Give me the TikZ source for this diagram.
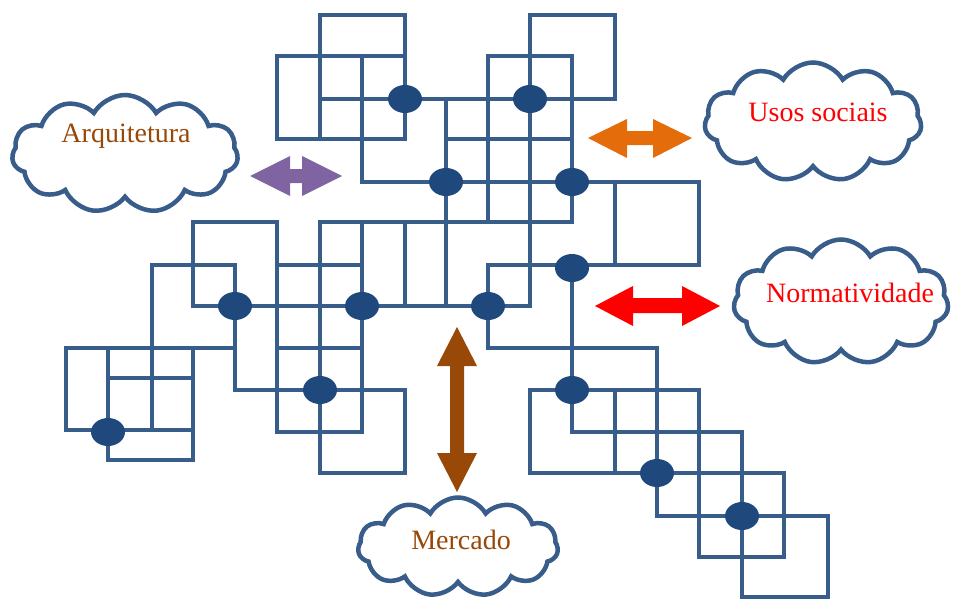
\documentclass[tikz,border=0pt]{standalone}
\usepackage{fontspec}
\setmainfont{Liberation Serif}
\usetikzlibrary{shapes.symbols,shapes.geometric}
\definecolor{gridblue}{RGB}{56,93,138}
\definecolor{dotblue}{RGB}{31,73,125}
\definecolor{arrpurple}{RGB}{128,100,162}
\definecolor{arrorange}{RGB}{228,108,10}
\definecolor{arrred}{RGB}{255,0,0}
\definecolor{arrbrown}{RGB}{152,72,7}
\definecolor{txtbrown}{RGB}{152,72,6}
\begin{document}
\begin{tikzpicture}[x=1pt,y=-1pt,
  gl/.style={draw=gridblue,line width=4.5pt,line cap=rect},
  dotn/.style={ellipse,fill=dotblue,minimum width=34pt,minimum height=28pt,inner sep=0pt},
  cloudn/.style={cloud,cloud puffs=11,cloud puff arc=120,cloud ignores aspect,draw=gridblue,line width=4.5pt,fill=white,inner sep=0pt},
  lbl/.style={font=\fontsize{28}{30}\selectfont,inner sep=0pt}]
\useasboundingbox (0,0) rectangle (960,599);
% horizontal grid segments
\foreach \yy/\xa/\xb in {15/320/405, 15/530/615, 56/277/405, 56/488/572, 99/320/615,
  139/277/405, 139/446/572, 182/362/699, 222/193/277, 222/320/572,
  265/152/235, 265/277/362, 265/488/699, 306/193/530,
  348/66/235, 348/277/362, 348/488/657, 390/235/405, 390/530/699, 378/108/193,
  432/277/362, 432/572/742, 430/66/193, 473/320/405, 473/530/784, 460/108/193,
  516/657/828, 557/699/784, 597/742/828}
  \draw[gl] (\xa,\yy) -- (\xb,\yy);
% vertical grid segments
\foreach \xx/\ya/\yb in {66/348/430, 108/348/460, 152/265/430, 193/222/306, 193/348/460,
  235/265/390, 277/56/139, 277/222/432, 320/15/139, 320/222/473,
  362/56/182, 362/222/432, 405/15/139, 405/222/306, 405/390/473,
  446/99/306, 488/56/222, 488/265/348, 530/15/306, 530/390/473,
  572/56/222, 572/265/432, 615/15/99, 615/182/265, 615/390/473,
  657/348/516, 699/182/265, 699/390/557, 742/432/597, 784/473/557, 828/516/597}
  \draw[gl] (\xx,\ya) -- (\xx,\yb);
% junction dots
\node[dotn] (d1) at (405,99) {};
\node[dotn] (d2) at (530,99) {};
\node[dotn] (d3) at (446,182) {};
\node[dotn] (d4) at (572,182) {};
\node[dotn] (d5) at (572,268) {};
\node[dotn] (d6) at (235,306) {};
\node[dotn] (d7) at (362,306) {};
\node[dotn] (d8) at (488,306) {};
\node[dotn] (d9) at (320,390) {};
\node[dotn] (d10) at (108,432) {};
\node[dotn] (d11) at (572,390) {};
\node[dotn] (d12) at (657,473) {};
\node[dotn] (d13) at (742,516) {};
% clouds
\node[cloudn,minimum width=226pt,minimum height=118pt] (c1) at (125,154) {};
\node[lbl,text=txtbrown] (t1) at (126,136) {Arquitetura};
\node[cloudn,minimum width=217pt,minimum height=119pt] (c2) at (813,122) {};
\node[lbl,text=arrred] (t2) at (818,112) {Usos sociais};
\node[cloudn,minimum width=215pt,minimum height=125pt] (c3) at (841,302) {};
\node[lbl,text=arrred] (t3) at (850,293) {Normatividade};
\node[cloudn,minimum width=200pt,minimum height=99pt] (c4) at (458,547) {};
\node[lbl,text=txtbrown] (t4) at (461,540) {Mercado};
% double arrows
\fill[arrpurple] (250,176) -- (290,156) -- (290,169) -- (302,169) -- (302,156) -- (342,176)
  -- (302,196) -- (302,183) -- (290,183) -- (290,196) -- cycle;
\fill[arrorange] (588,138) -- (627,119) -- (627,131) -- (653,131) -- (653,119) -- (692,138)
  -- (653,158) -- (653,145) -- (627,145) -- (627,158) -- cycle;
\fill[arrred] (595,306) -- (633,286) -- (633,298) -- (682,298) -- (682,286) -- (720,306)
  -- (682,326) -- (682,313) -- (633,313) -- (633,326) -- cycle;
\fill[arrbrown] (457,327) -- (477,366) -- (464,366) -- (464,453) -- (477,453) -- (457,492)
  -- (437,453) -- (450,453) -- (450,366) -- (437,366) -- cycle;
\end{tikzpicture}
\end{document}
